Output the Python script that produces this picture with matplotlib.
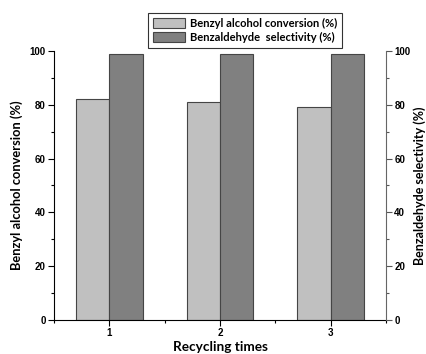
# -*- coding: utf-8 -*-
# recycling test bar chart

import numpy as np
import matplotlib
matplotlib.use('Agg')
import matplotlib.pyplot as plt
from matplotlib.ticker import MultipleLocator

cycles = [1, 2, 3]
conversion = [82, 81, 79]
selectivity = [99, 99, 99]
conv_label = 'Benzyl alcohol conversion (%)'
sel_label = 'Benzaldehyde  selectivity (%)'
sel_axis_label = 'Benzaldehyde selectivity (%)'

plt.rcParams['font.family'] = ['Lato', 'DejaVu Sans']

fig = plt.figure(figsize=(4.27, 3.54), dpi=100)
ax = fig.add_axes([0.1265, 0.096, 0.7775, 0.76])
ax2 = ax.twinx()

w = 0.3
x = np.array(cycles)
b1 = ax.bar(x - w / 2, conversion, width=w, color='#c0c0c0',
            edgecolor='#454545', linewidth=0.8, label=conv_label)
b2 = ax.bar(x + w / 2, selectivity, width=w, color='#808080',
            edgecolor='#454545', linewidth=0.8, label=sel_label)

ax.set_xlim(0.5, 3.5)
ax.set_ylim(0, 100)
ax2.set_ylim(0, 100)
ax.set_xticks(cycles)
ax.xaxis.set_minor_locator(MultipleLocator(0.5))
for a in (ax, ax2):
    a.yaxis.set_major_locator(MultipleLocator(20))
    a.yaxis.set_minor_locator(MultipleLocator(10))
    a.spines['top'].set_visible(False)

ax.spines['right'].set_visible(False)
ax2.spines['left'].set_visible(False)
ax2.spines['bottom'].set_visible(False)
ax2.spines['right'].set_color('#666666')

ax.tick_params(axis='both', which='major', length=4, width=0.8, pad=2)
ax.tick_params(axis='both', which='minor', length=2.5, width=0.8)
ax2.tick_params(axis='y', which='major', length=4, width=0.8, pad=2,
                color='#555555')
ax2.tick_params(axis='y', which='minor', length=2.5, width=0.8,
                color='#555555')
for lab in ax.get_xticklabels() + ax.get_yticklabels() + ax2.get_yticklabels():
    lab.set_family('Liberation Sans')
    lab.set_fontsize(7)
    lab.set_fontweight('bold')

ax.set_ylabel(conv_label, fontsize=9.3, fontweight='bold', labelpad=5)
ax2.set_ylabel(sel_axis_label, fontsize=9.0, fontweight='bold', labelpad=2)
ax.set_xlabel('Recycling times', fontsize=9.8, fontweight='bold', labelpad=2)

leg = fig.legend(handles=[b1, b2], loc='upper left',
                 bbox_to_anchor=(148 / 427, 1 - 13 / 354),
                 frameon=True, fancybox=False, edgecolor='black',
                 prop=dict(family='Lato', weight='bold', size=8),
                 handlelength=2.9, handleheight=1.0, handletextpad=0.4,
                 borderpad=0.45, labelspacing=0.25, borderaxespad=0)
leg.get_frame().set_linewidth(0.8)

fig.savefig('out.png', dpi=100)
